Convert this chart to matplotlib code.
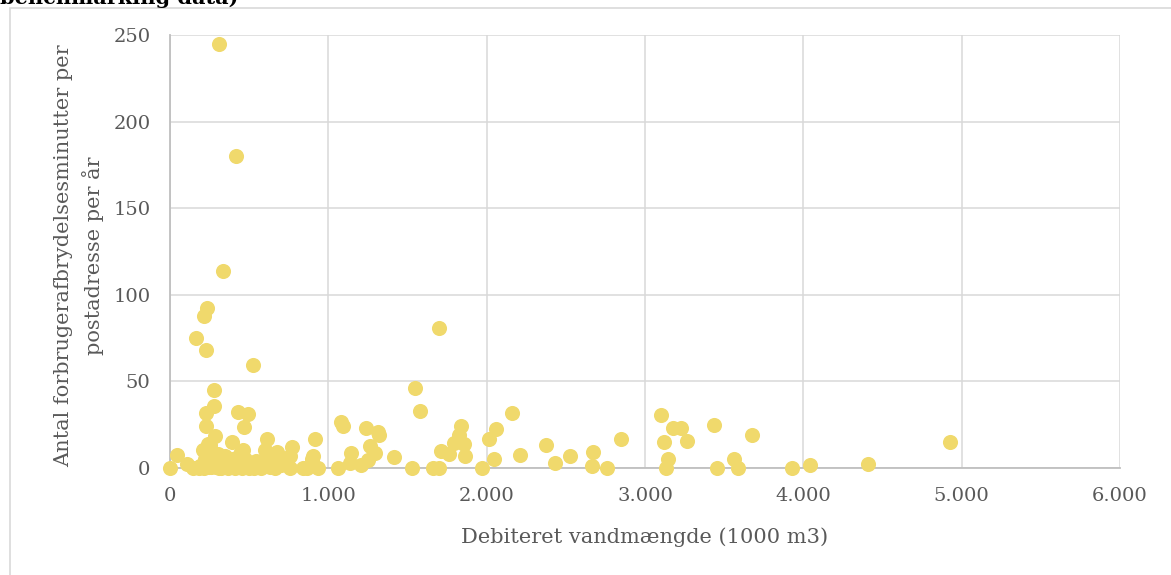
import matplotlib.pyplot as plt
from matplotlib.patches import Rectangle
from matplotlib.ticker import FuncFormatter

# Debiteret vandmængde (1000 m3)
vand = [0, 45, 105, 147, 164, 190, 210, 215, 221, 229, 232, 225, 225, 238, 250, 253,
        260, 270, 278, 280, 284, 290, 300, 307, 310, 320, 334, 340, 350, 360, 370,
        390, 400, 416, 420, 432, 440, 452, 463, 467, 480, 495, 500, 526, 540, 560,
        590, 600, 615, 630, 650, 674, 700, 758, 758, 769, 842, 863, 895, 905, 915, 937,
        1062, 1078, 1094, 1136, 1140, 1209, 1237, 1251, 1262, 1293, 1314, 1319,
        1415, 1531, 1546, 1582, 1661, 1699, 1697, 1714, 1762, 1792, 1825, 1840,
        1855, 1865, 1970, 2015, 2046, 2061, 2158, 2208, 2372, 2429, 2524, 2667,
        2671, 2759, 2850, 3100, 3117, 3133, 3144, 3177, 3228, 3265, 3438, 3456,
        3560, 3586, 3675, 3929, 4040, 4407, 4925]
# Antal forbrugerafbrydelsesminutter per postadresse per år
minutter = [0, 7.5, 2.5, 0, 75, 1, 10.5, 88, 5, 68, 92.5, 31.5, 24.5, 14, 3, 13.5,
            0.5, 6, 45, 36, 18.5, 2, 8, 245, 0, 4, 114, 1, 7, 3, 0.5,
            15, 5, 180, 1, 32.5, 8, 10, 10.5, 23.5, 2, 31, 0, 59.5, 4, 1,
            3, 10.5, 16.5, 0.5, 6, 9, 2, 6.8, 0, 12, 0, 0, 5, 7, 17, 0,
            0, 26.5, 24.5, 2.9, 8.7, 1.9, 23, 4.8, 12.5, 8.7, 21, 19.3,
            6.2, 0, 46.3, 33, 0, 0, 81, 9.6, 8.1, 14.5, 19.3, 24,
            14, 6.8, 0, 16.8, 5.2, 22.7, 31.8, 7.3, 13.1, 2.9, 6.8, 1.4,
            9.1, 0, 17, 30.4, 15, 0, 5.2, 23, 23, 15.4, 25, 0,
            5.2, 0, 18.8, 0, 1.5, 2.5, 15]

# ekstra punkter i klyngen ved lave mængder
klynge_x = [180, 200, 215, 235, 245, 265, 275, 290, 305, 325, 345, 365, 380, 410,
            430, 455, 475, 510, 530, 575, 610, 660, 690]
klynge_y = [0, 1.5, 0, 2, 0.5, 1, 3.5, 0.5, 2.5, 0, 1.5, 0, 4, 0, 2.5, 0, 5, 1, 0, 0, 2, 0, 4]

x_ticks = [0, 1000, 2000, 3000, 4000, 5000, 6000]
y_ticks = [0, 50, 100, 150, 200, 250]

farve = '#F0D96C'
tekst = '#595959'
font = ['DejaVu Serif']

fig = plt.figure(figsize=(11.71, 5.75), dpi=100)
ax = fig.add_axes([170/1171, 1-468/575, (1120-170)/1171, (468-35)/575])

ax.scatter(vand + klynge_x, minutter + klynge_y, s=118, color=farve, linewidths=0,
           clip_on=False, zorder=3)

ax.set_xlim(0, 6000)
ax.set_ylim(0, 250)
ax.set_xticks(x_ticks)
ax.set_yticks(y_ticks)
ax.xaxis.set_major_formatter(FuncFormatter(lambda v, p: f'{v:,.0f}'.replace(',', '.')))
ax.grid(True, color='#d9d9d9', lw=1.1)
ax.set_axisbelow(True)
for s in ['top', 'right']:
    ax.spines[s].set_visible(False)
for s in ['left', 'bottom']:
    ax.spines[s].set_color('#bfbfbf')
    ax.spines[s].set_linewidth(1.3)
ax.tick_params(length=0, labelsize=14, labelcolor=tekst)
ax.tick_params(axis='x', pad=14)
ax.tick_params(axis='y', pad=14)
for lab in ax.get_xticklabels() + ax.get_yticklabels():
    lab.set_family(font)

fig.text(79/1171, 1-256/575, 'Antal forbrugerafbrydelsesminutter per\npostadresse per år',
         rotation=90, ha='center', va='center', multialignment='center',
         fontsize=15, color=tekst, family=font, linespacing=1.45)
fig.text(645/1171, 1-537/575, 'Debiteret vandmængde (1000 m3)', ha='center', va='center',
         fontsize=15, color=tekst, family=font)

# rest af titlen ovenfor
fig.text(0.0, 1-4/575, 'benchmarking data)', ha='left', va='baseline',
         fontsize=15, fontweight='bold', color='black', family=font)

fig.patches.append(Rectangle((10/1171, -0.05), 1.2, 1.05-8/575, transform=fig.transFigure,
                             fill=False, ec='#d9d9d9', lw=1.2))

fig.savefig('out.png', dpi=100)
